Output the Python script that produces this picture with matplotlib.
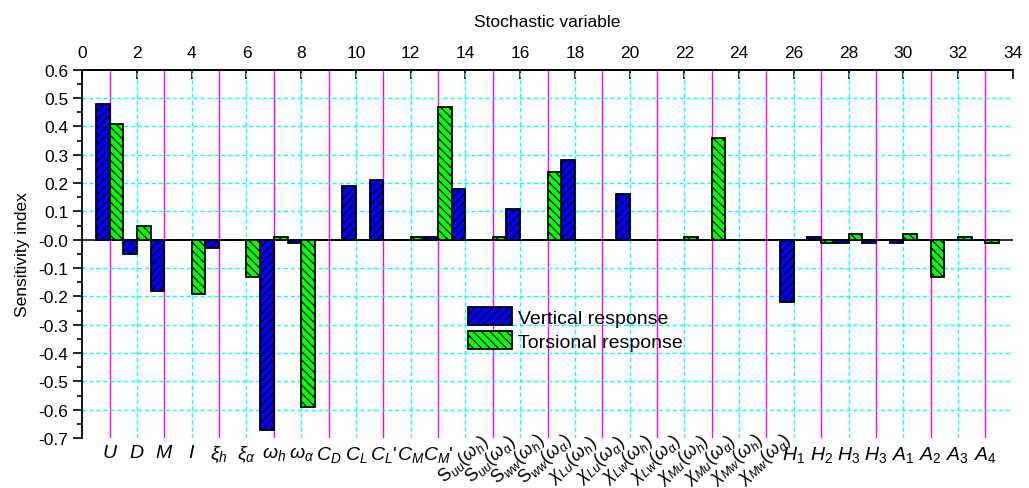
import numpy as np
import matplotlib
matplotlib.use("Agg")
import matplotlib.pyplot as plt
from matplotlib.patches import Patch

plt.rcParams['font.family'] = ['Liberation Sans', 'DejaVu Sans']
plt.rcParams['mathtext.fontset'] = 'custom'
plt.rcParams['mathtext.it'] = 'Liberation Sans:italic'
plt.rcParams['mathtext.rm'] = 'Liberation Sans'
plt.rcParams['mathtext.sf'] = 'Liberation Sans'
plt.rcParams['hatch.linewidth'] = 0.9

labels = [r'$U$', r'$D$', r'$M$', r'$I$', r'$\xi_h$', r'$\xi_\alpha$', r'$\omega_h$', r'$\omega_\alpha$',
          r'$C_D$', r'$C_L$', r"$C_L$'", r'$C_M$', r"$C_M$'",
          r'$\mathrm{S}_{uu}(\omega_h)$', r'$\mathrm{S}_{uu}(\omega_\alpha)$',
          r'$\mathrm{S}_{ww}(\omega_h)$', r'$\mathrm{S}_{ww}(\omega_\alpha)$',
          r'$\chi_{Lu}(\omega_h)$', r'$\chi_{Lu}(\omega_\alpha)$',
          r'$\chi_{Lw}(\omega_h)$', r'$\chi_{Lw}(\omega_\alpha)$',
          r'$\chi_{Mu}(\omega_h)$', r'$\chi_{Mu}(\omega_\alpha)$',
          r'$\chi_{Mw}(\omega_h)$', r'$\chi_{Mw}(\omega_\alpha)$',
          r'$H_1$', r'$H_2$', r'$H_3$', r'$H_3$', r'$A_1$', r'$A_2$', r'$A_3$', r'$A_4$']

vertical = [0.48, -0.05, -0.18, 0.0, -0.03, 0.0, -0.67, -0.01,
            0.0, 0.19, 0.21, 0.0, 0.01,
            0.18, 0.0, 0.11, 0.0, 0.28, 0.0, 0.16, 0.0, 0.0, 0.0, 0.0, 0.0,
            -0.22, 0.01, -0.01, -0.01, -0.01, 0.0, 0.0, 0.0]

torsional = [0.41, 0.05, 0.0, -0.19, 0.0, -0.13, 0.01, -0.59,
             0.0, 0.0, 0.0, 0.01, 0.47,
             0.0, 0.01, 0.0, 0.24, 0.0, 0.0, 0.0, 0.0, 0.01, 0.36, 0.0, 0.0,
             0.0, -0.01, 0.02, 0.0, 0.02, -0.13, 0.01, -0.01]

pos = np.arange(1, len(labels) + 1)
bw = 0.5

fig = plt.figure(figsize=(10.29, 4.89), dpi=100)
ax = fig.add_axes([82.3 / 1029, 1 - 439 / 489, 930.4 / 1029, 368.3 / 489])
ax.set_xlim(0, 34)
ax.set_ylim(-0.7, 0.6)

# grid lines
for x in range(1, 34, 2):
    ax.axvline(x, color='#FF00FF', lw=1.0, zorder=1)
for x in range(2, 34, 2):
    ax.axvline(x, color='#00FFFF', lw=1.0, ls=(0, (3, 2)), zorder=1)
for y in np.arange(-0.6, 0.55, 0.1):
    if abs(y) > 1e-9:
        ax.axhline(y, color='#00FFFF', lw=1.0, ls=(0, (3, 2)), zorder=1)
ax.axhline(0, color='#222222', lw=1.3, zorder=2)

ax.bar(pos - bw / 2, vertical, width=bw, color='#0000FF', edgecolor='black',
       hatch='////', lw=1.3, zorder=3)
ax.bar(pos + bw / 2, torsional, width=bw, color='#00FF00', edgecolor='black',
       hatch='\\\\\\\\', lw=1.3, zorder=3)

# bottom category labels
ax.set_xticks([])
xt = ax.get_xaxis_transform()
for p, lab in zip(pos, labels):
    if 14 <= p <= 25:
        ax.text(p - 0.08, -0.056, lab, transform=xt, rotation=42, rotation_mode='anchor',
                ha='center', va='center', fontsize=13, clip_on=False)
    else:
        ax.text(p, -0.015, lab, transform=xt, ha='center', va='top', fontsize=14, clip_on=False)

# left axis
yt = np.round(np.arange(-0.7, 0.61, 0.1), 1)
ax.set_yticks(yt)
ax.set_yticklabels(['%.1f' % v for v in yt], fontsize=12.5)
ax.set_yticks(np.arange(-0.65, 0.6, 0.1), minor=True)
ax.tick_params(axis='y', which='major', direction='out', length=6.5, width=1.2)
ax.tick_params(axis='y', which='minor', direction='out', length=3.5, width=1.2)
ax.set_ylabel('Sensitivity index', fontsize=12.5, labelpad=6)

for s in ['bottom', 'right']:
    ax.spines[s].set_visible(False)
ax.spines['left'].set_linewidth(1.3)
ax.spines['top'].set_linewidth(1.3)

# top axis
sec = ax.secondary_xaxis('top')
sec.set_xticks(np.arange(0, 35, 2))
sec.tick_params(direction='in', length=6.5, width=1.2, labelsize=12.5, pad=7)
sec.spines['top'].set_linewidth(1.3)
sec.set_xlabel('Stochastic variable', fontsize=12.5, labelpad=14)

handles = [Patch(facecolor='#0000FF', edgecolor='black', hatch='////', lw=1.3, label='Vertical response'),
           Patch(facecolor='#00FF00', edgecolor='black', hatch='\\\\\\\\', lw=1.3, label='Torsional response')]
ax.legend(handles=handles, loc='upper left', bbox_to_anchor=(0.4146, 0.3557), frameon=False,
          fontsize=14, handlelength=2.26, handleheight=1.08, handletextpad=0.3,
          borderpad=0, borderaxespad=0, labelspacing=0.2)

fig.savefig('out.png', dpi=100)
